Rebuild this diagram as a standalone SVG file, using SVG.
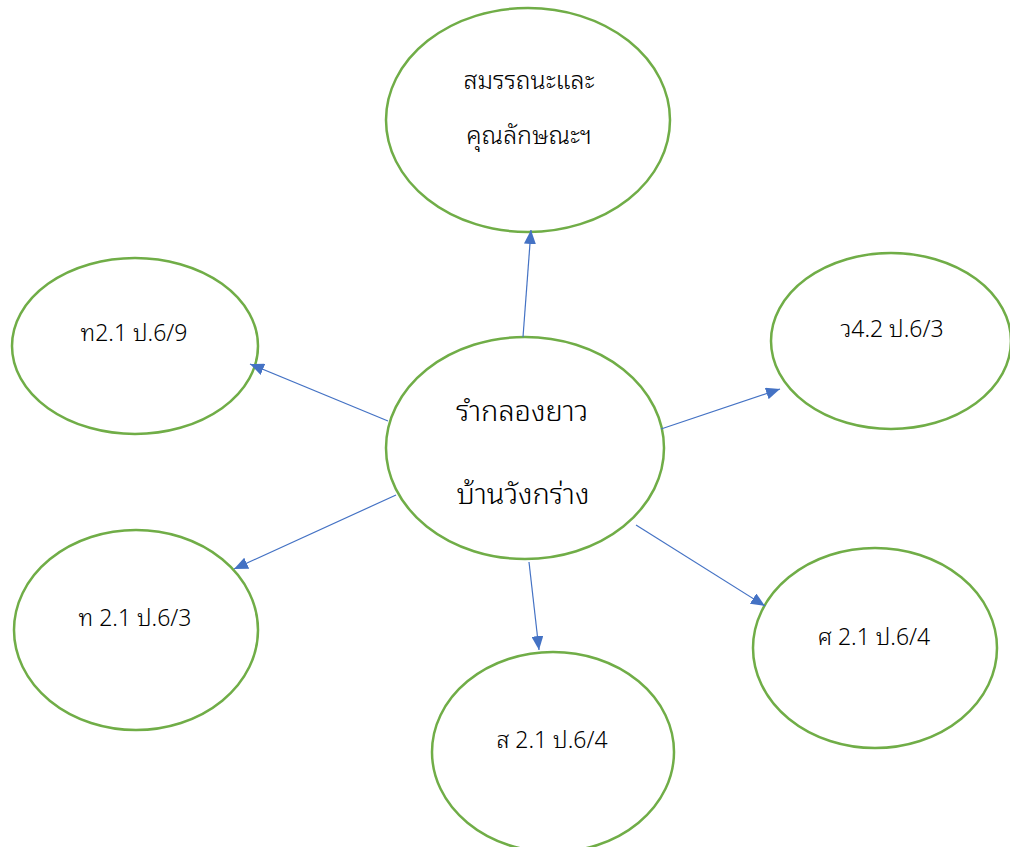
<svg xmlns="http://www.w3.org/2000/svg" width="1010" height="847" viewBox="0 0 1010 847">
<style>
.n{fill:#fff;stroke:#70AD47;stroke-width:2.5}
.t{font-family:"Noto Sans Thai Looped","Noto Sans Thai","Noto Sans","DejaVu Sans",sans-serif;font-weight:300;fill:#000;text-anchor:middle}
.c{stroke:#4472C4;stroke-width:1.2;fill:none;marker-end:url(#ah)}
</style>
<defs>
<marker id="ah" markerWidth="14" markerHeight="12" refX="10" refY="5" orient="auto" markerUnits="userSpaceOnUse" viewBox="0 0 10 10" preserveAspectRatio="none">
<path d="M0,0 L10,5 L0,10 z" fill="#4472C4"/>
</marker>
</defs>
<rect width="1010" height="847" fill="#fff"/>
<g id="n-top"><ellipse class="n" cx="528" cy="120" rx="142" ry="112"/>
<text class="t" x="529" y="89" font-size="25">สมรรถนะและ</text>
<text class="t" x="529" y="144" font-size="25">คุณลักษณะฯ</text></g>
<g id="n-center"><ellipse class="n" cx="525" cy="448" rx="139" ry="111"/>
<text class="t" x="522" y="421" font-size="29">รำกลองยาว</text>
<text class="t" x="523" y="504" font-size="29">บ้านวังกร่าง</text></g>
<g id="n-lt"><ellipse class="n" cx="135" cy="346" rx="123" ry="88"/>
<text class="t" x="134" y="341" font-size="23">ท2.1 ป.6/9</text></g>
<g id="n-rt"><ellipse class="n" cx="891" cy="341" rx="120" ry="88"/>
<text class="t" x="892" y="337" font-size="23">ว4.2 ป.6/3</text></g>
<g id="n-lb"><ellipse class="n" cx="136" cy="630" rx="122" ry="100"/>
<text class="t" x="135" y="626" font-size="23">ท 2.1 ป.6/3</text></g>
<g id="n-b"><ellipse class="n" cx="553" cy="752" rx="121" ry="100"/>
<text class="t" x="552" y="748" font-size="23">ส 2.1 ป.6/4</text></g>
<g id="n-rb"><ellipse class="n" cx="875" cy="648" rx="122" ry="100"/>
<text class="t" x="874" y="645" font-size="23">ศ 2.1 ป.6/4</text></g>
<g id="connectors">
<line class="c" x1="523" y1="337" x2="531" y2="230"/>
<line class="c" x1="388" y1="421" x2="250" y2="364"/>
<line class="c" x1="661" y1="429" x2="780" y2="389"/>
<line class="c" x1="396" y1="495" x2="234" y2="569"/>
<line class="c" x1="529" y1="562" x2="539" y2="650"/>
<line class="c" x1="636" y1="525" x2="765" y2="606"/>
</g>
</svg>
